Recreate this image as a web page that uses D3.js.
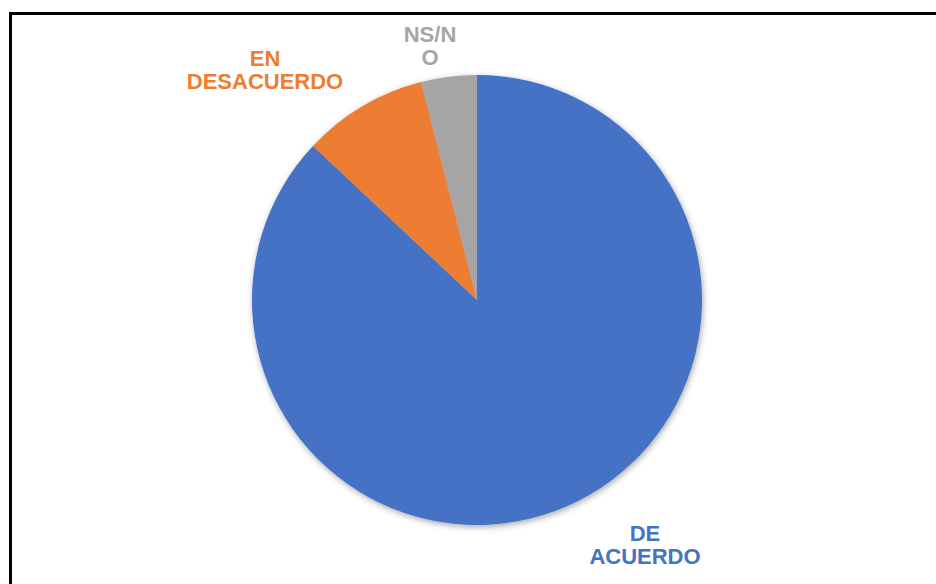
<!DOCTYPE html>
<html>
<head>
<meta charset="utf-8">
<script src="https://cdn.jsdelivr.net/npm/d3@7"></script>
<style>
  body { margin: 0; background: #fff; }
  svg { display: block; }
</style>
</head>
<body>
<svg id="chart" width="936" height="584"></svg>
<script>
// 데이터
const categories = ["DE ACUERDO", "EN DESACUERDO", "NS/NO"];
const values = [87, 9, 4];
const colors = ["#4472C4", "#ED7D31", "#A5A5A5"];
const labelLines = [["DE", "ACUERDO"], ["EN", "DESACUERDO"], ["NS/N", "O"]];

const width = 936;
const height = 584;
const cx = 477, cy = 300, radius = 225;

const svg = d3.select("#chart");

// 테두리
svg.append("rect")
  .attr("x", 10.5)
  .attr("y", 13.5)
  .attr("width", 940)
  .attr("height", 600)
  .attr("fill", "none")
  .attr("stroke", "#000")
  .attr("stroke-width", 3);

// 그림자 필터
const defs = svg.append("defs");
const filter = defs.append("filter").attr("id", "shadow")
  .attr("x", "-10%").attr("y", "-10%").attr("width", "120%").attr("height", "120%");
filter.append("feDropShadow")
  .attr("dx", 1).attr("dy", 2).attr("stdDeviation", 3)
  .attr("flood-color", "#000").attr("flood-opacity", 0.35);

const pie = d3.pie().sort(null).value(d => d);
const arcs = pie(values);
const arc = d3.arc().innerRadius(0).outerRadius(radius);

const g = svg.append("g").attr("transform", `translate(${cx},${cy})`);

g.append("g").attr("filter", "url(#shadow)")
  .selectAll("path")
  .data(arcs)
  .join("path")
  .attr("d", arc)
  .attr("fill", (d, i) => colors[i]);

// 라벨 위치 (조각 바깥)
const labelPos = [[168, 241], [-212, -234], [-47, -258]];

const labels = g.selectAll("text.lbl")
  .data(arcs)
  .join("text")
  .attr("class", "lbl")
  .attr("text-anchor", "middle")
  .attr("font-family", "Liberation Sans, Arial, sans-serif")
  .attr("font-weight", "bold")
  .attr("font-size", "22px")
  .attr("fill", (d, i) => colors[i]);

labels.each(function(d, i) {
  const t = d3.select(this);
  labelLines[i].forEach((line, j) => {
    t.append("tspan")
      .attr("x", labelPos[i][0])
      .attr("y", labelPos[i][1] + j * 23)
      .text(line);
  });
});
</script>
</body>
</html>
